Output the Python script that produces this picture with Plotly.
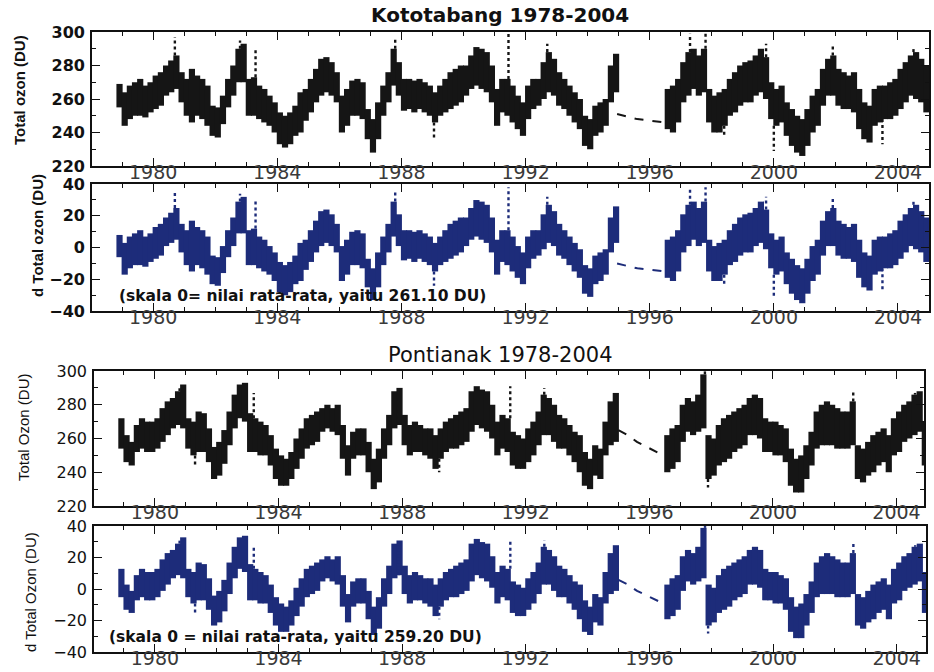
import numpy as np
import plotly.graph_objects as go

# ---- Long-term means used as the zero of the anomaly panels (DU) ----
MEAN_KOTO = 261.10
MEAN_PONT = 259.20

# ---- Two-month periods: Nov 1978 .. Dec 1994 and Jul 1996 .. Dec 2004 ----
period_a = 1978 + 11 / 12 + np.arange(97) / 6
period_b = 1996 + 7 / 12 + np.arange(51) / 6

# ---- Kototabang: lower / upper envelope of daily total ozone per period (DU) ----
koto_lo_a = [
    255,
    244, 248, 250, 250, 249, 252,   # 1979
    254, 256, 262, 264, 266, 258,   # 1980
    250, 246, 250, 248, 244, 238,   # 1981
    237, 245, 255, 262, 270, 270,   # 1982
    250, 250, 248, 246, 244, 240,   # 1983
    233, 231, 233, 238, 240, 247,   # 1984
    252, 258, 262, 264, 262, 258,   # 1985
    240, 244, 250, 250, 248, 236,   # 1986
    228, 236, 250, 258, 268, 262,   # 1987
    253, 254, 252, 254, 252, 250,   # 1988
    246, 250, 252, 254, 256, 258,   # 1989
    262, 266, 268, 266, 264, 258,   # 1990
    244, 252, 250, 246, 242, 238,   # 1991
    248, 254, 256, 260, 264, 262,   # 1992
    256, 254, 250, 246, 242, 232,   # 1993
    230, 238, 240, 244, 258, 264,   # 1994
]
koto_hi_a = [
    269,
    264, 268, 270, 272, 268, 270,   # 1979
    274, 276, 280, 283, 286, 276,   # 1980
    272, 278, 274, 272, 268, 256,   # 1981
    255, 262, 272, 280, 290, 293,   # 1982
    272, 273, 268, 266, 262, 258,   # 1983
    252, 250, 252, 256, 264, 266,   # 1984
    272, 278, 284, 285, 282, 276,   # 1985
    262, 266, 271, 272, 270, 254,   # 1986
    248, 258, 268, 276, 290, 282,   # 1987
    272, 272, 271, 272, 270, 268,   # 1988
    264, 268, 272, 276, 278, 280,   # 1989
    280, 286, 291, 290, 288, 280,   # 1990
    266, 272, 272, 268, 262, 258,   # 1991
    268, 272, 272, 282, 288, 284,   # 1992
    276, 272, 268, 264, 260, 250,   # 1993
    248, 256, 258, 260, 280, 287,   # 1994
]
koto_lo_b = [
    242, 240, 246,                  # 1996
    258, 262, 266, 262, 264, 246,   # 1997
    240, 240, 244, 250, 252, 256,   # 1998
    258, 258, 262, 264, 260, 248,   # 1999
    244, 246, 238, 232, 228, 226,   # 2000
    232, 240, 244, 256, 262, 262,   # 2001
    256, 254, 254, 252, 242, 236,   # 2002
    234, 244, 246, 248, 248, 250,   # 2003
    254, 258, 262, 260, 258, 252,   # 2004
]
koto_hi_b = [
    266, 268, 272,                  # 1996
    282, 288, 290, 286, 290, 266,   # 1997
    262, 264, 266, 272, 276, 280,   # 1998
    282, 283, 286, 290, 285, 270,   # 1999
    266, 268, 258, 254, 250, 248,   # 2000
    254, 262, 266, 278, 284, 286,   # 2001
    278, 276, 274, 276, 266, 258,   # 2002
    256, 266, 268, 268, 270, 272,   # 2003
    278, 282, 286, 288, 284, 280,   # 2004
]
# isolated daily extremes outside the envelope
koto_spike_yr = [1980.7, 1982.8, 1983.3, 1987.8, 1989.05, 1991.45, 1992.7,
                 1997.3, 1997.8, 1998.4, 1999.75, 2000.0, 2001.9, 2003.5, 2004.5]
koto_spike_du = [297, 295, 290, 297, 237, 299, 293,
                 299, 299, 238, 293, 229, 293, 233, 291]
# sparse observations between the two instruments
koto_gap_yr = [1994.95, 1995.2, 1995.6, 1996.05, 1996.5]
koto_gap_du = [251, 250, 248, 247, 246]

# ---- Pontianak ----
pont_lo_a = [
    254,
    246, 244, 252, 254, 252, 252,   # 1979
    254, 258, 262, 266, 268, 266,   # 1980
    254, 250, 252, 252, 246, 236,   # 1981
    238, 245, 256, 266, 272, 270,   # 1982
    252, 252, 250, 250, 244, 236,   # 1983
    232, 232, 236, 242, 248, 254,   # 1984
    256, 258, 264, 266, 264, 262,   # 1985
    248, 238, 248, 250, 250, 240,   # 1986
    230, 234, 248, 256, 266, 268,   # 1987
    256, 250, 252, 252, 250, 248,   # 1988
    242, 248, 252, 254, 254, 256,   # 1989
    258, 264, 268, 266, 264, 260,   # 1990
    250, 254, 252, 244, 242, 242,   # 1991
    246, 250, 256, 262, 262, 258,   # 1992
    254, 254, 250, 246, 240, 232,   # 1993
    230, 238, 236, 250, 256, 258,   # 1994
]
pont_hi_a = [
    272,
    262, 258, 268, 272, 270, 270,   # 1979
    272, 278, 282, 284, 288, 292,   # 1980
    272, 270, 276, 275, 266, 255,   # 1981
    258, 265, 276, 286, 292, 293,   # 1982
    275, 272, 270, 268, 262, 254,   # 1983
    250, 248, 252, 260, 266, 272,   # 1984
    274, 276, 278, 280, 278, 280,   # 1985
    268, 256, 264, 266, 266, 258,   # 1986
    248, 254, 266, 274, 288, 290,   # 1987
    274, 268, 270, 268, 266, 266,   # 1988
    262, 266, 270, 272, 274, 276,   # 1989
    278, 288, 291, 289, 288, 280,   # 1990
    270, 274, 272, 264, 262, 260,   # 1991
    266, 270, 276, 286, 284, 280,   # 1992
    274, 272, 268, 264, 262, 252,   # 1993
    248, 256, 254, 270, 282, 287,   # 1994
]
pont_lo_b = [
    240, 242, 246,                  # 1996
    258, 264, 262, 264, 266, 236,   # 1997
    238, 244, 246, 248, 252, 254,   # 1998
    256, 262, 262, 260, 252, 252,   # 1999
    250, 250, 246, 232, 228, 228,   # 2000
    236, 244, 254, 256, 256, 256,   # 2001
    254, 254, 254, 256, 236, 234,   # 2002
    238, 240, 244, 246, 240, 250,   # 2003
    252, 258, 260, 262, 264, 244,   # 2004
]
pont_hi_b = [
    262, 266, 268,                  # 1996
    280, 284, 282, 286, 298, 262,   # 1997
    260, 268, 272, 274, 276, 278,   # 1998
    280, 284, 286, 284, 272, 270,   # 1999
    270, 268, 266, 254, 248, 250,   # 2000
    256, 264, 276, 280, 282, 280,   # 2001
    278, 276, 276, 282, 256, 254,   # 2002
    258, 262, 264, 266, 262, 272,   # 2003
    276, 280, 282, 286, 288, 270,   # 2004
]
pont_spike_yr = [1980.8, 1981.3, 1983.2, 1987.9, 1989.2, 1991.5, 1992.6,
                 1997.8, 1997.9, 2002.6, 2004.6]
pont_spike_du = [291, 244, 287, 290, 240, 291, 290,
                 300, 231, 289, 287]
pont_gap_yr = [1995.0, 1995.3, 1995.6, 1995.9, 1996.2, 1996.45]
pont_gap_du = [265, 262, 258, 255, 252, 250]

BLACK = "#151515"
NAVY = "#1d2c7a"


def band_segments(t, lo, hi, offset):
    xs, ys = [], []
    for ti, a, b in zip(t, lo, hi):
        xs += [ti, ti, None]
        ys += [a - offset, b - offset, None]
    return xs, ys


def spike_segments(t_all, hi_all, lo_all, syr, sdu, offset):
    xs, ys = [], []
    t_all = np.asarray(t_all)
    for y, v in zip(syr, sdu):
        k = int(np.argmin(np.abs(t_all - y)))
        edge = hi_all[k] if v > hi_all[k] else lo_all[k]
        xs += [y, y, None]
        ys += [edge - offset, v - offset, None]
    return xs, ys


fig = go.Figure()


def add_station(lo_a, hi_a, lo_b, hi_b, syr, sdu, gyr, gdu, offset, color, xa, ya):
    t_all = list(period_a) + list(period_b)
    lo_all = list(lo_a) + list(lo_b)
    hi_all = list(hi_a) + list(hi_b)
    xs, ys = band_segments(t_all, lo_all, hi_all, offset)
    fig.add_trace(go.Scatter(x=xs, y=ys, mode="lines", xaxis=xa, yaxis=ya,
                             line=dict(color=color, width=6.2), showlegend=False,
                             hoverinfo="skip"))
    sx, sy = spike_segments(t_all, hi_all, lo_all, syr, sdu, offset)
    fig.add_trace(go.Scatter(x=sx, y=sy, mode="lines", xaxis=xa, yaxis=ya,
                             line=dict(color=color, width=2.4, dash="dot"),
                             showlegend=False, hoverinfo="skip"))
    fig.add_trace(go.Scatter(x=gyr, y=[v - offset for v in gdu], mode="lines",
                             xaxis=xa, yaxis=ya,
                             line=dict(color=color, width=2, dash="dash"),
                             showlegend=False, hoverinfo="skip"))


add_station(koto_lo_a, koto_hi_a, koto_lo_b, koto_hi_b, koto_spike_yr, koto_spike_du,
            koto_gap_yr, koto_gap_du, 0.0, BLACK, "x", "y")
add_station(koto_lo_a, koto_hi_a, koto_lo_b, koto_hi_b, koto_spike_yr, koto_spike_du,
            koto_gap_yr, koto_gap_du, MEAN_KOTO, NAVY, "x2", "y2")
add_station(pont_lo_a, pont_hi_a, pont_lo_b, pont_hi_b, pont_spike_yr, pont_spike_du,
            pont_gap_yr, pont_gap_du, 0.0, BLACK, "x3", "y3")
add_station(pont_lo_a, pont_hi_a, pont_lo_b, pont_hi_b, pont_spike_yr, pont_spike_du,
            pont_gap_yr, pont_gap_du, MEAN_PONT, NAVY, "x4", "y4")

W, H = 934, 672


def px_dom(a, b, total):
    return [a / total, b / total]


def ydom(top, bottom):
    return [1 - bottom / H, 1 - top / H]


year_ticks = [1980, 1984, 1988, 1992, 1996, 2000, 2004]


def xaxis(dom, rng, anchor):
    return dict(domain=dom, range=rng, anchor=anchor, automargin=False,
                tickvals=year_ticks, ticktext=[str(v) for v in year_ticks],
                ticks="inside", ticklen=8, tickwidth=1.3, tickcolor="#111",
                minor=dict(dtick=1, tick0=1980, ticks="inside", ticklen=4,
                           tickwidth=1.2, tickcolor="#111"),
                showline=True, linecolor="#111", linewidth=1.6, mirror="ticks",
                showgrid=False, zeroline=False,
                tickfont=dict(family="DejaVu Sans", size=19, color="#3a3a3a"),
                ticklabelstandoff=-12)


def yaxis(dom, rng, anchor, bold):
    return dict(domain=dom, range=rng, anchor=anchor, dtick=20, automargin=False,
                ticks="inside", ticklen=8, tickwidth=1.3, tickcolor="#111",
                minor=dict(dtick=10, ticks="inside", ticklen=4, tickwidth=1.2,
                           tickcolor="#111"),
                showline=True, linecolor="#111", linewidth=1.6, mirror="ticks",
                showgrid=False, zeroline=False,
                tickfont=dict(family="DejaVu Sans", size=16, color="#111",
                              weight="bold" if bold else "normal"),
                ticklabelstandoff=2)


fig.update_layout(
    width=W, height=H, margin=dict(l=0, r=0, t=0, b=0, autoexpand=False),
    paper_bgcolor="white", plot_bgcolor="white",
    xaxis=xaxis(px_dom(92, 929, W), [1978.03, 2005.0], "y"),
    yaxis=yaxis(ydom(32, 166), [220, 300], "x", True),
    xaxis2=xaxis(px_dom(92, 929, W), [1978.03, 2005.0], "y2"),
    yaxis2=yaxis(ydom(184, 311), [-40, 40], "x2", True),
    xaxis3=xaxis(px_dom(94, 924, W), [1978.03, 2004.89], "y3"),
    yaxis3=yaxis(ydom(371, 506), [220, 300], "x3", False),
    xaxis4=xaxis(px_dom(94, 926, W), [1978.03, 2004.95], "y4"),
    yaxis4=yaxis(ydom(526, 652), [-40, 40], "x4", False),
)


def ann(text, x, y, size, bold=False, angle=0, family="DejaVu Sans", color="#111"):
    fig.add_annotation(text=text, x=x / W, y=1 - y / H, xref="paper", yref="paper",
                       showarrow=False, textangle=angle,
                       font=dict(family=family, size=size, color=color,
                                 weight="bold" if bold else "normal"),
                       xanchor="center", yanchor="middle")


ann("Kototabang 1978-2004", 500, 15, 20, bold=True)
ann("Pontianak 1978-2004", 500, 355, 21)
ann("Total ozon (DU)", 20, 90, 15, bold=True, angle=-90, family="Liberation Sans")
ann("d Total ozon (DU)", 38, 236, 15, bold=True, angle=-90, family="Liberation Sans")
ann("Total Ozon (DU)", 23, 427, 15, angle=-90, family="Liberation Sans")
ann("d Total Ozon (DU)", 30, 592, 15, angle=-90, family="Liberation Sans")

fig.add_annotation(text="(skala 0= nilai rata-rata, yaitu 261.10 DU)",
                   x=117 / W, y=1 - 296 / H, xref="paper", yref="paper",
                   showarrow=False, xanchor="left", yanchor="middle",
                   font=dict(family="DejaVu Sans", size=15.5, color="#111", weight="bold"))
fig.add_annotation(text="(skala 0 = nilai rata-rata, yaitu 259.20 DU)",
                   x=107 / W, y=1 - 637 / H, xref="paper", yref="paper",
                   showarrow=False, xanchor="left", yanchor="middle",
                   font=dict(family="DejaVu Sans", size=15.5, color="#111", weight="bold"))

fig.write_html("out.html")
